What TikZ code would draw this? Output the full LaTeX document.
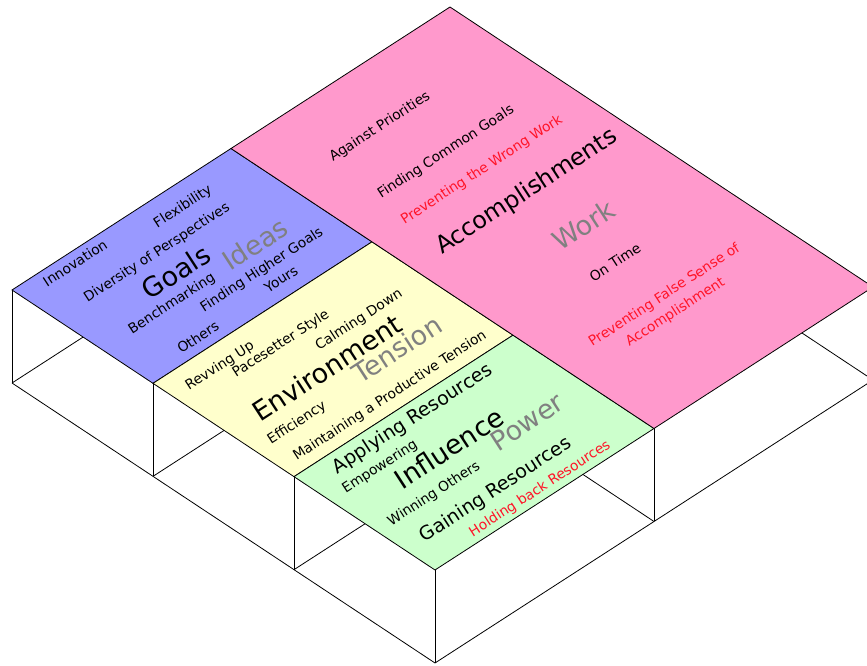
\documentclass[tikz,border=0pt]{standalone}
\usepackage{fontspec}
\setmainfont{DejaVu Sans}
\definecolor{faceblue}{RGB}{153,153,255}
\definecolor{faceyellow}{RGB}{255,255,204}
\definecolor{facegreen}{RGB}{204,255,204}
\definecolor{facepink}{RGB}{255,153,204}
\definecolor{lblgray}{RGB}{128,128,128}
\definecolor{lblred}{RGB}{255,20,40}
\tikzset{
  edge/.style={draw=black, line width=0.8pt},
  face/.style={draw=black, line width=0.8pt, line join=miter},
  txt/.style={rotate=33, inner sep=0pt, anchor=center},
  sm/.style={txt, font=\fontsize{13.8}{20}\selectfont},
  md/.style={txt, font=\fontsize{19}{22}\selectfont},
  lg/.style={txt, font=\fontsize{26.8}{30}\selectfont},
  acc/.style={txt, font=\fontsize{23.8}{26}\selectfont},
  wm/.style={lg, text=lblgray},
  warn/.style={sm, text=lblred},
}
\begin{document}
\begin{tikzpicture}[x=1pt, y=-1pt]
\useasboundingbox (0,0) rectangle (867,666);
\clip (0,0) rectangle (867,666);

% isometric block: x = along the front-left edge, y = towards the back, z = down
\begin{scope}[shift={(12pt,-290pt)}, x={(141pt,-93.33pt)}, y={(219pt,141.5pt)}, z={(0pt,-93pt)}]
  % wireframe of the base
  \foreach \i in {0,...,3} {
    \foreach \j in {0,1,2} {
      \draw[edge] (\i,\j,0) -- (\i,\j,1);
    }
    \draw[edge] (\i,0,1) -- (\i,2,1);
  }
  \foreach \j in {0,1,2} {
    \draw[edge] (0,\j,1) -- (3,\j,1);
  }
  % coloured top faces
  \filldraw[face, fill=faceblue]   (0,0,0) -- (1,0,0) -- (1,1,0) -- (0,1,0) -- cycle;
  \filldraw[face, fill=faceyellow] (1,0,0) -- (2,0,0) -- (2,1,0) -- (1,1,0) -- cycle;
  \filldraw[face, fill=facegreen]  (2,0,0) -- (3,0,0) -- (3,1,0) -- (2,1,0) -- cycle;
  \filldraw[face, fill=facepink]   (0,1,0) -- (3,1,0) -- (3,2,0) -- (0,2,0) -- cycle;
\end{scope}

% Goals / Ideas
\node[sm] (innov)  at (75,263)  {Innovation};
\node[sm] (flex)   at (183,207) {Flexibility};
\node[sm] (divers) at (157,253) {Diversity of Perspectives};
\node[lg] (goals)  at (176,272) {Goals};
\node[wm] (ideas)  at (255,244) {Ideas};
\node[sm] (bench)  at (172,304) {Benchmarking};
\node[sm] (higher) at (262,270) {Finding Higher Goals};
\node[sm] (yours)  at (281,279) {Yours};
\node[sm] (others) at (198,337) {Others};

% Environment / Tension
\node[sm] (revving) at (220,366) {Revving Up};
\node[sm] (pace)    at (281,344) {Pacesetter Style};
\node[sm] (calming) at (359,320) {Calming Down};
\node[lg] (envir)   at (327,368) {Environment};
\node[wm] (tension) at (397,349) {Tension};
\node[sm] (effic)   at (297,423) {Efficiency};
\node[sm] (maint)   at (390,396) {Maintaining a Productive Tension};

% Influence / Power
\node[md]   (apply)   at (413,419) {Applying Resources};
\node[sm]   (empower) at (380,467) {Empowering};
\node[lg]   (influ)   at (449,448) {Influence};
\node[wm]   (power)   at (527,422) {Power};
\node[sm]   (winning) at (434,494) {Winning Others};
\node[md]   (gaining) at (496,490) {Gaining Resources};
\node[warn] (holding) at (540,489) {Holding back Resources};

% Accomplishments / Work
\node[sm]   (against) at (380,127) {Against Priorities};
\node[sm]   (common)  at (446,152) {Finding Common Goals};
\node[warn] (wrong)   at (482,170) {Preventing the Wrong Work};
\node[acc]  (accomp)  at (527,192) {Accomplishments};
\node[wm]   (work)    at (584,225) {Work};
\node[sm]   (ontime)  at (615,262) {On Time};
\node[warn, align=center] (falsesense) at (670,304) {Preventing False Sense of\\Accomplishment};
\end{tikzpicture}
\end{document}
